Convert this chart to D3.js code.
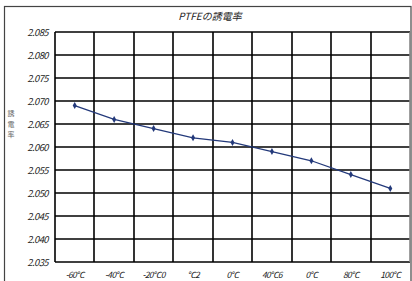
<!DOCTYPE html>
<html><head><meta charset="utf-8">
<script src="https://cdn.jsdelivr.net/npm/d3@7"></script>
<style>
html,body{margin:0;padding:0;background:#fff;}
svg{display:block;}
text{font-family:"Noto Sans CJK JP","Noto Sans",sans-serif;}
</style></head>
<body>
<script>
const categories = ["-60℃","-40℃","-20℃0","℃2","0℃","40℃6","0℃","80℃","100℃"];
const values = [2.069, 2.066, 2.064, 2.062, 2.061, 2.059, 2.057, 2.054, 2.051];
const yTicks = [2.035,2.040,2.045,2.050,2.055,2.060,2.065,2.070,2.075,2.080,2.085];
const title = "PTFEの誘電率";
const yTitle = "誘電率";

const W = 412, H = 281;
const svg = d3.select("body").append("svg").attr("width", W).attr("height", H);

svg.append("rect").attr("x", 4.5).attr("y", 6.5).attr("width", 406.5).attr("height", 290)
  .attr("fill", "none").attr("stroke", "#444").attr("stroke-width", 1.2);

const L = 55, R = 410, T = 32, B = 262;
const x = d3.scaleBand().domain(d3.range(categories.length)).range([L, R]).paddingInner(0).paddingOuter(0);
const y = d3.scaleLinear().domain([2.035, 2.085]).range([B, T]);

const g = svg.append("g");
g.selectAll("line.h").data(yTicks).enter().append("line")
  .attr("x1", L).attr("x2", R).attr("y1", d => Math.round(y(d))).attr("y2", d => Math.round(y(d)))
  .attr("stroke", "#000").attr("stroke-width", 1.6);
const vx = d3.range(categories.length + 1).map(i => i < categories.length ? x(i) : R);
g.selectAll("line.v").data(vx).enter().append("line")
  .attr("x1", d => Math.round(d)).attr("x2", d => Math.round(d)).attr("y1", T).attr("y2", B)
  .attr("stroke", (d, i) => i === vx.length - 1 ? "#888" : "#000").attr("stroke-width", 1.6);

svg.selectAll("text.yt").data(yTicks).enter().append("text")
  .attr("x", 48).attr("y", d => y(d) + 3.5)
  .attr("text-anchor", "end").attr("font-size", 9.5).attr("font-style", "italic")
  .attr("fill", "#222").attr("letter-spacing", -0.6)
  .text(d => d3.format(".3f")(d));

svg.selectAll("text.xt").data(categories).enter().append("text")
  .attr("x", (d, i) => x(i) + x.bandwidth() / 2).attr("y", 278)
  .attr("text-anchor", "middle").attr("font-size", 8.5).attr("font-style", "italic")
  .attr("fill", "#222").attr("letter-spacing", -0.7)
  .text(d => d);

svg.append("text").attr("x", 210).attr("y", 20).attr("text-anchor", "middle")
  .attr("font-size", 10).attr("font-style", "italic").attr("fill", "#222").text(title);

svg.selectAll("text.yl").data(yTitle.split("")).enter().append("text")
  .attr("class", "yl")
  .attr("x", 11).attr("y", (d, i) => 116 + i * 10.5)
  .attr("text-anchor", "middle").attr("font-size", 7).attr("fill", "#666")
  .text(d => d);

const line = d3.line().x((d, i) => x(i) + x.bandwidth() / 2).y(d => y(d));
svg.append("path").datum(values).attr("d", line).attr("fill", "none")
  .attr("stroke", "#23397a").attr("stroke-width", 1.2);
svg.selectAll("path.m").data(values).enter().append("path")
  .attr("transform", (d, i) => `translate(${x(i) + x.bandwidth() / 2},${y(d)})`)
  .attr("d", d3.symbol().type(d3.symbolDiamond).size(14))
  .attr("fill", "#23397a");
</script>
</body></html>
